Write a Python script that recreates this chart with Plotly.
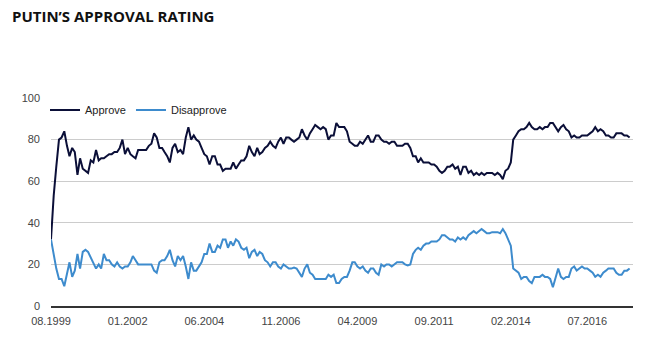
import pandas as pd
import plotly.graph_objects as go

# Monthly data, Aug 1999 onwards
months = pd.date_range("1999-08-01", periods=220, freq="MS")

approve = [
    32, 53, 67, 80, 81, 84, 77, 72, 76, 74, 63, 71, 66, 65, 64, 70, 69, 75, 70, 71,
    71, 72, 73, 73, 74, 74, 76, 80, 73, 76, 73, 72, 71, 75, 75, 75,
    75, 77, 78, 83, 81, 76, 76, 74, 72, 69, 76, 78, 74, 75, 73, 81, 86, 80, 82, 80,
    79, 76, 73, 72, 68, 72, 72, 68, 68, 65, 66, 66, 66, 69, 66, 68, 70,
    70, 72, 77, 74, 72, 76, 73, 74, 76, 77, 79, 77, 76, 79, 81, 78, 81, 81, 80, 79,
    80, 81, 85, 82, 80, 83, 85, 87, 86, 85, 86, 85, 80, 82, 82, 88, 86,
    86, 86, 84, 79, 78, 77, 77, 79, 78, 80, 82, 79, 79, 82, 82, 80, 79, 79, 78, 79,
    79, 77, 77, 77, 78, 78, 76, 72, 72, 69, 71, 69, 69, 69, 68, 68, 67,
    65, 64, 65, 67, 67, 68, 66, 67, 63, 67, 67, 64, 65, 63, 64, 63, 64, 63, 64, 64,
    64, 63, 64, 63, 61, 65, 66, 69, 80, 82, 84, 85, 85, 86, 88, 86, 85,
    85, 86, 85, 86, 86, 88, 88, 86, 84, 86, 87, 85, 84, 81, 82, 81, 81, 82, 82, 82,
    83, 84, 86, 84, 85, 84, 82, 82, 81, 81, 83, 83, 83, 82, 82, 81,
]

disapprove = [
    32, 25, 18, 13, 13, 9.5, 16, 21, 14, 17, 25, 18, 26, 27, 26, 23, 21, 18, 20, 18,
    25, 22, 22, 20, 19, 21, 19, 18, 19, 19, 21, 24, 22, 20, 20, 20,
    20, 20, 20, 17, 16, 21, 22, 22, 24, 27, 22, 19, 24, 22, 24, 19, 13, 21, 17, 17,
    19, 21, 25, 25, 30, 26, 26, 29, 28, 32, 32, 28, 31, 29, 32, 31, 28,
    27, 28, 23, 26, 27, 24, 26, 25, 22, 21, 19, 21, 21, 19, 18, 20, 19, 18, 18, 18.5,
    18, 16, 14, 18, 20, 16, 15, 13, 13, 13, 13, 13, 15, 14, 15, 11, 11,
    13, 14, 14, 17, 21, 21, 19, 18, 19, 17, 16, 18, 18, 16, 15, 20, 19, 20, 20, 19,
    20, 21, 21, 21, 20, 19.5, 20, 25, 27, 28, 27, 29, 30, 30, 31, 31, 31,
    32, 34, 34, 33, 32, 32, 31, 33, 32, 33, 32, 34, 35, 36, 35, 36, 37, 36, 35, 35,
    35.5, 35.5, 35.5, 35, 37, 35, 32, 29, 18, 17, 16, 13, 14, 14, 12, 11, 14,
    14, 14, 15, 14, 14, 13, 9, 13, 18, 14, 13, 14, 14, 18, 19, 17, 18, 19, 18, 18,
    17, 16, 14, 15, 14, 16, 17, 18, 18, 18, 16, 15, 15, 17, 17, 18,
]

tick_labels = ["08.1999", "01.2002", "06.2004", "11.2006", "04.2009", "09.2011", "02.2014", "07.2016"]
tick_dates = [pd.Timestamp(year=int(t[3:]), month=int(t[:2]), day=1) for t in tick_labels]

y_ticks = [0, 20, 40, 60, 80, 100]

assert len(approve) == len(months) == len(disapprove)

FONT = "Arial, 'Liberation Sans', sans-serif"

fig = go.Figure()
fig.add_trace(go.Scatter(x=months, y=approve, mode="lines", name="Approve",
                         line=dict(color="#0b0f38", width=2)))
fig.add_trace(go.Scatter(x=months, y=disapprove, mode="lines", name="Disapprove",
                         line=dict(color="#3d8bcd", width=2)))

fig.update_layout(
    width=654, height=341,
    margin=dict(l=51, r=21, t=98, b=35),
    paper_bgcolor="white", plot_bgcolor="white",
    title=dict(text="<b>PUTIN\u2019S APPROVAL RATING</b>",
               font=dict(family="'Open Sans', sans-serif", size=15, color="#111111"),
               x=12 / 654, xanchor="left", y=1 - 17 / 341, yanchor="middle"),
    font=dict(family=FONT, size=11, color="#444444"),
    legend=dict(orientation="h", x=-6 / 582, xanchor="left", y=0.942, yanchor="middle",
                font=dict(family=FONT, size=11, color="#222222"),
                bgcolor="rgba(0,0,0,0)", itemwidth=30, tracegroupgap=0),
    showlegend=True,
)

fig.update_xaxes(
    range=[pd.Timestamp("1999-08-01"), pd.Timestamp("2017-12-10")],
    tickvals=tick_dates, ticktext=tick_labels,
    showgrid=False, zeroline=False,
    showline=True, linecolor="#333333", linewidth=1.5,
    ticks="", ticklabelstandoff=4,
    tickfont=dict(family=FONT, size=11, color="#444444"),
)
fig.update_yaxes(
    range=[0, 100], tickvals=y_ticks,
    showgrid=True, gridcolor="#cccccc", gridwidth=1,
    zeroline=False, showline=False, ticks="",
    ticklabelstandoff=10,
    tickfont=dict(family=FONT, size=11, color="#444444"),
)

fig.write_html("out.html")
